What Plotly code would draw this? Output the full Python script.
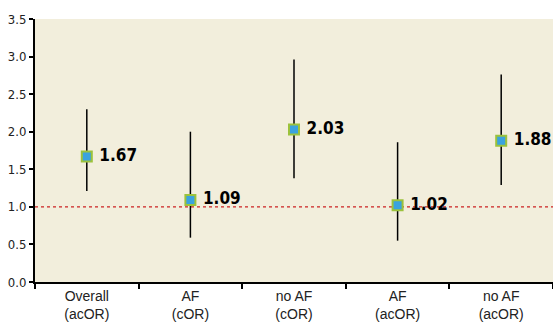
import plotly.graph_objects as go

categories = ["Overall<br>(acOR)", "AF<br>(cOR)", "no AF<br>(cOR)", "AF<br>(acOR)", "no AF<br>(acOR)"]
odds_ratio = [1.67, 1.09, 2.03, 1.02, 1.88]
ci_low = [1.21, 0.59, 1.38, 0.55, 1.29]
ci_high = [2.30, 2.00, 2.96, 1.86, 2.76]
labels = ["1.67", "1.09", "2.03", "1.02", "1.88"]

fig = go.Figure()
fig.add_trace(go.Scatter(
    x=categories, y=odds_ratio, mode="markers+text",
    marker=dict(symbol="square", size=10, color="#3aa3df",
                line=dict(color="#9cc23c", width=2)),
    error_y=dict(type="data", symmetric=False,
                 array=[h - v for h, v in zip(ci_high, odds_ratio)],
                 arrayminus=[v - l for v, l in zip(odds_ratio, ci_low)],
                 color="black", thickness=1.5, width=0),
    text=[" " + t for t in labels], textposition="middle right",
    textfont=dict(family="DejaVu Sans Condensed", size=17, color="black", weight="bold"),
    showlegend=False, cliponaxis=False,
))
fig.add_shape(type="line", xref="paper", x0=0, x1=1, yref="y", y0=1, y1=1,
              line=dict(color="#cc2222", width=1.2, dash="dot"), layer="below")

fig.update_layout(
    width=553, height=327,
    margin=dict(l=35, r=0, t=19, b=45),
    paper_bgcolor="white", plot_bgcolor="#f2eedc",
    font=dict(family="Liberation Sans", color="#222"),
)
fig.update_xaxes(
    type="category", tickson="boundaries", range=[-0.5, 4.5],
    showline=True, linecolor="black", linewidth=2,
    ticks="outside", ticklen=5, tickcolor="black", tickwidth=1.5,
    showgrid=False, tickfont=dict(size=14, family="Liberation Sans", color="#222"),
)
fig.update_yaxes(
    range=[0, 3.5], tickmode="array", tickvals=[0, 0.5, 1, 1.5, 2, 2.5, 3, 3.5],
    ticktext=["0.0", "0.5", "1.0", "1.5", "2.0", "2.5", "3.0", "3.5"],
    showline=True, linecolor="black", linewidth=2,
    ticks="outside", ticklen=4, tickcolor="black", tickwidth=1.5,
    showgrid=False, zeroline=False,
    tickfont=dict(size=13, family="DejaVu Sans Condensed", color="#222"),
)
fig.write_html("out.html", config={"displayModeBar": False})
with open("out.html", "r", encoding="utf-8") as f:
    html = f.read()
html = html.replace("<body>", '<body style="margin:0;padding:0;overflow:hidden">', 1)
with open("out.html", "w", encoding="utf-8") as f:
    f.write(html)
